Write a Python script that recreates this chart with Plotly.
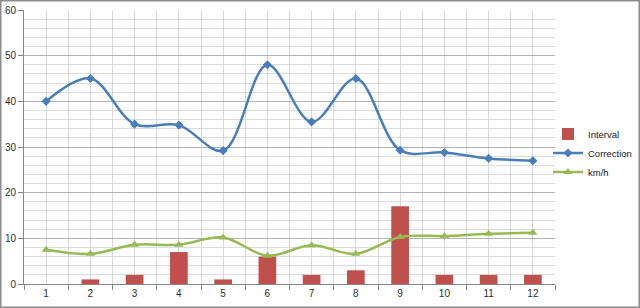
import plotly.graph_objects as go

categories = [1, 2, 3, 4, 5, 6, 7, 8, 9, 10, 11, 12]
interval = [0, 1, 2, 7, 1, 6, 2, 3, 17, 2, 2, 2]
correction = [40, 45, 35, 34.8, 29.2, 48, 35.5, 45, 29.3, 28.8, 27.5, 27]
kmh = [7.5, 6.6, 8.6, 8.6, 10.2, 6.2, 8.5, 6.6, 10.3, 10.5, 11, 11.2]
tick_labels = [str(c) for c in categories]

fig = go.Figure()
fig.add_trace(go.Bar(x=categories, y=interval, name="Interval", width=0.4,
                     marker=dict(color="#C0504D", line=dict(width=0))))
fig.add_trace(go.Scatter(x=categories, y=correction, name="Correction", mode="lines+markers",
                         line=dict(color="#4A7EBB", width=2.5, shape="spline", smoothing=1),
                         marker=dict(symbol="diamond", size=7, color="#4A7EBB")))
fig.add_trace(go.Scatter(x=categories, y=kmh, name="km/h", mode="lines+markers",
                         line=dict(color="#98B954", width=2.5, shape="spline", smoothing=1),
                         marker=dict(symbol="triangle-up", size=8, color="#98B954")))

L, R, T, B = 24, 85, 10, 24
W, H = 640, 308
pw, ph = W - L - R, H - T - B


def px_x(p):
    return (p - L) / pw


def px_y(p):
    return (H - B - p) / ph


fig.update_layout(
    width=W, height=H,
    margin=dict(l=L, r=R, t=T, b=B, autoexpand=False),
    paper_bgcolor="white", plot_bgcolor="white",
    font=dict(family="Liberation Sans, Arial", size=10, color="#303030"),
    showlegend=True,
    legend=dict(x=px_x(548), y=px_y(153), xanchor="left", yanchor="middle",
                font=dict(size=9.5, color="#202020"), tracegroupgap=0,
                itemwidth=30, bgcolor="rgba(0,0,0,0)"),
    xaxis=dict(range=[0.5, 12.5], tickvals=categories, ticktext=tick_labels,
               showgrid=True, gridcolor="#D9D9D9", gridwidth=1,
               ticks="", showline=True, linecolor="#868686", linewidth=1,
               zeroline=False, tickfont=dict(size=10),
               minor=dict(tick0=0.5, dtick=1, showgrid=True, gridcolor="#D9D9D9",
                          ticks="outside", ticklen=5, tickcolor="#868686")),
    yaxis=dict(range=[0, 60], dtick=10, showgrid=True, gridcolor="#B3B3B3", gridwidth=1,
               ticks="outside", ticklen=5, tickcolor="#868686",
               showline=True, linecolor="#868686", linewidth=1, zeroline=False,
               tickfont=dict(size=10),
               minor=dict(dtick=2, showgrid=True, gridcolor="#DCDCDC")),
)

fig.add_shape(type="rect", xref="paper", yref="paper",
              x0=px_x(0.75), x1=px_x(W - 0.75),
              y0=px_y(H - 0.75), y1=px_y(0.75),
              line=dict(color="#8C8C8C", width=1.5), fillcolor="rgba(0,0,0,0)", layer="above")

fig.write_html("out.html")
